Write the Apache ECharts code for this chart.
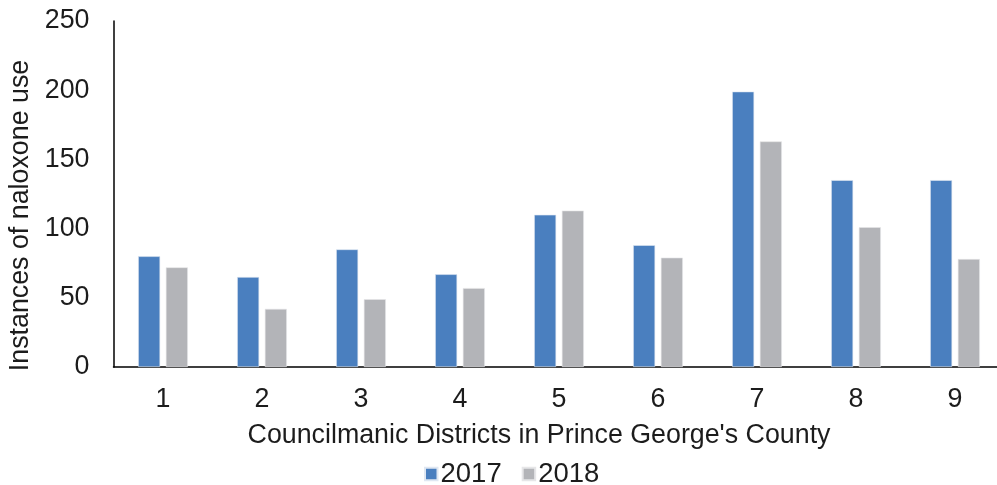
<!DOCTYPE html>
<html>
<head>
<meta charset="utf-8">
<script src="https://cdn.jsdelivr.net/npm/echarts@6/dist/echarts.min.js"></script>
<style>
  html, body { margin: 0; padding: 0; background: #fff; }
  #chart { width: 997px; height: 485px; }
</style>
</head>
<body>
<div id="chart"></div>
<script>
// Councilmanic districts and naloxone administrations per year
const districts = ['1', '2', '3', '4', '5', '6', '7', '8', '9'];
const uses2017 = [80, 65, 85, 67, 110, 88, 199, 135, 135];
const uses2018 = [72, 42, 49, 57, 113, 79, 163, 101, 78];
const seriesNames = ['2017', '2018'];

const FONT = '"Liberation Sans", Arial, sans-serif';
const TEXT = '#1c1c1c';
const SIZE = 26.8;

const chart = echarts.init(document.getElementById('chart'), null, { renderer: 'canvas' });

chart.setOption({
  animation: false,
  backgroundColor: '#ffffff',
  textStyle: { fontFamily: FONT, color: TEXT },
  // the plot runs slightly past the right edge of the canvas
  grid: { left: 113.5, width: 891, top: 21, bottom: 118, containLabel: false, outerBoundsMode: 'none' },
  legend: {
    data: seriesNames,
    left: 419,
    top: 455,
    itemWidth: 12.5,
    itemHeight: 12.5,
    itemGap: 20,
    icon: 'rect',
    textStyle: { fontFamily: FONT, fontSize: 27.5, color: TEXT, padding: [0, 0, 0, -2] }
  },
  xAxis: {
    type: 'category',
    data: districts,
    name: "Councilmanic Districts in Prince George's County",
    nameLocation: 'middle',
    nameGap: 55,
    nameTextStyle: { fontFamily: FONT, fontSize: SIZE, color: TEXT, padding: [0, 40, 0, 0] },
    axisLine: { lineStyle: { color: '#000000', width: 1.5 } },
    axisTick: { show: false },
    axisLabel: { fontFamily: FONT, fontSize: SIZE, color: TEXT, margin: 19 },
    splitLine: { show: false }
  },
  yAxis: {
    type: 'value',
    min: 0,
    max: 250,
    interval: 50,
    name: 'Instances of naloxone use',
    nameLocation: 'middle',
    nameGap: 78,
    nameTextStyle: { fontFamily: FONT, fontSize: SIZE, color: TEXT, padding: [0, 43, 0, 0] },
    axisLine: { show: true, lineStyle: { color: '#000000', width: 1.5 } },
    axisTick: { show: false },
    axisLabel: { fontFamily: FONT, fontSize: SIZE, color: TEXT, margin: 24 },
    splitLine: { show: false }
  },
  series: [
    {
      name: seriesNames[0],
      type: 'bar',
      data: uses2017,
      barWidth: 22,
      barGap: '26%',
      itemStyle: { color: '#4a7fbf', borderColor: '#dfe7f2', borderWidth: 0.6 }
    },
    {
      name: seriesNames[1],
      type: 'bar',
      data: uses2018,
      barWidth: 22,
      barGap: '26%',
      itemStyle: { color: '#b3b4b8', borderColor: '#e6e6e8', borderWidth: 0.6 }
    }
  ]
});
</script>
</body>
</html>
